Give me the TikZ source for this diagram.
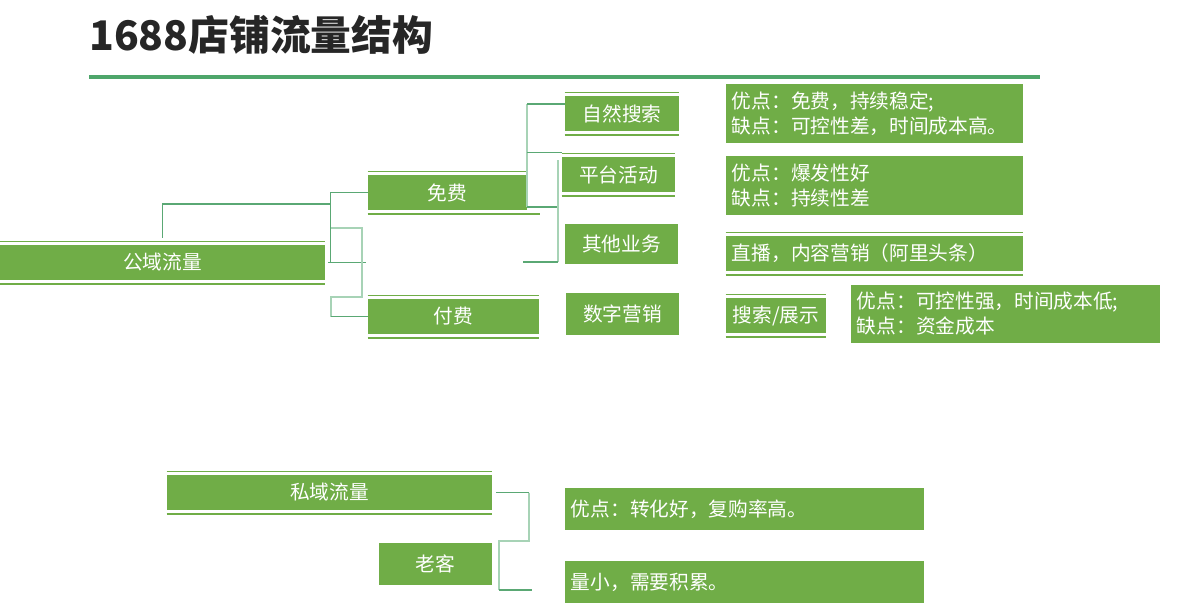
\documentclass[tikz,border=0pt]{standalone}
\usepackage{fontspec}
\setmainfont{Noto Sans CJK SC}
\usetikzlibrary{positioning,calc}
\definecolor{boxgreen}{HTML}{70AD47}
\definecolor{linkdark}{HTML}{5AA874}
\definecolor{linklight}{HTML}{A7D3B6}
\definecolor{rulegreen}{HTML}{4EA66B}
\definecolor{titlegray}{HTML}{262626}
\tikzset{
  topic/.style={fill=boxgreen, text=white, inner sep=0pt, minimum height=0.875cm, font=\fontsize{14}{17.8}\selectfont},
  note/.style={topic, align=left, inner xsep=0.15cm},
  barline/.style={draw=boxgreen, line width=0.9pt},
  barline2/.style={draw=boxgreen, line width=1.5pt},
  link/.style={draw=linkdark, line width=0.8pt},
  softlink/.style={draw=linklight, line width=1.2pt}
}
% thin bars above and below a topic box
\newcommand{\bars}[1]{%
  \draw[barline] ([yshift=2.2pt]#1.north west) -- ([yshift=2.2pt]#1.north east);
  \draw[barline2] ([yshift=-2.4pt]#1.south west) -- ([yshift=-2.4pt]#1.south east);}

\begin{document}
\begin{tikzpicture}[x=0.025cm, y=-0.025cm]
  \fill[white] (0,0) rectangle (1204,611);
  \useasboundingbox (0,0) rectangle (1204,611);

  % title
  \node[anchor=west, inner sep=0pt, text=titlegray, font=\fontsize{29}{34}\selectfont\bfseries] (title) at (89,35) {1688店铺流量结构};
  \draw[rulegreen, line width=2.9pt] (89,77) -- (1040,77);

  % public traffic
  \node[topic, minimum width=8.125cm] (gongyu) at (162.5,262.5) {公域流量};
  \node[topic, minimum width=3.975cm] (mianfei) at (447.5,192.5) {免费};
  \node[topic, minimum width=4.275cm] (fufei) at (453.5,316.5) {付费};
  \node[topic, minimum width=2.85cm] (ziran) at (622,113.5) {自然搜索};
  \node[topic, minimum width=2.825cm] (pingtai) at (618.5,174.5) {平台活动};
  \node[topic, minimum width=2.825cm, minimum height=1cm] (qita) at (621.5,244) {其他业务};
  \node[topic, minimum width=2.825cm, minimum height=1.05cm] (shuzi) at (622.5,314) {数字营销};
  \node[note, text width=7.125cm, minimum height=1.475cm] (ziranpc) at (874.5,113.5) {优点：免费，持续稳定;\\缺点：可控性差，时间成本高。};
  \node[note, text width=7.125cm, minimum height=1.475cm] (pingtaipc) at (874.5,185.5) {优点：爆发性好\\缺点：持续性差};
  \node[note, text width=7.125cm] (zhibo) at (874.5,253.5) {直播，内容营销（阿里头条）};
  \node[topic, minimum width=2.5cm] (sousuo) at (776,315.5) {搜索/展示};
  \node[note, text width=7.425cm, minimum height=1.45cm] (sousuopc) at (1005.5,314) {优点：可控性强，时间成本低;\\缺点：资金成本};

  % private traffic
  \node[topic, minimum width=8.125cm] (siyu) at (329.5,492.5) {私域流量};
  \node[topic, minimum width=2.825cm, minimum height=1.05cm] (laoke) at (435.5,564) {老客};
  \node[note, text width=8.675cm, minimum height=1.05cm] (laokepro) at (744.5,509) {优点：转化好，复购率高。};
  \node[note, text width=8.675cm, minimum height=1.05cm] (laokecon) at (744.5,582) {量小，需要积累。};

  \bars{gongyu}
  \bars{mianfei}
  \draw[barline2] ([yshift=-2.4pt]mianfei.south east) -- ++(13,0);
  \bars{fufei}
  \bars{ziran}
  \bars{pingtai}
  \bars{zhibo}
  \bars{sousuo}
  \bars{siyu}

  % connectors
  \coordinate (pubhub) at (331,204);
  \draw[link] ([yshift=5pt]gongyu.north) |- (pubhub);
  \draw[link] (mianfei.west) -- ++(-37,0) -- ++(0,69.5);
  \draw[link] ([xshift=2pt]gongyu.east) -- ++(38,0);
  \draw[softlink] (fufei.west) ++(-37,0) -- ++(0,-19.5) -- ++(31,0) -- ++(0,-69) -- ++(-31,0);
  \draw[link] (fufei.west) -- ++(-37,0);

  \draw[softlink] (mianfei.east) ++(0,14.5) -- ++(0,-103);
  \draw[link] (ziran.west) ++(0,-9.5) -- ++(-38,0);
  \draw[link] (pingtai.north west) ++(0,-4) -- ++(-35,0);
  \draw[link] (mianfei.east) ++(0,14.5) -- ++(31,0);
  \draw[softlink] (qita.west) ++(-7,18) -- ++(0,-102);
  \draw[link] (qita.west) ++(-7,18) -- ++(-35,0);

  \draw[link] (siyu.east) ++(4,0) -- ++(33,0);
  \draw[softlink] (siyu.east) ++(37,0) -- ++(0,48.5) -- ++(-30,0) -- ++(0,49);
  \draw[link] (laoke.east) ++(7,26) -- ++(33,0);
\end{tikzpicture}
\end{document}
